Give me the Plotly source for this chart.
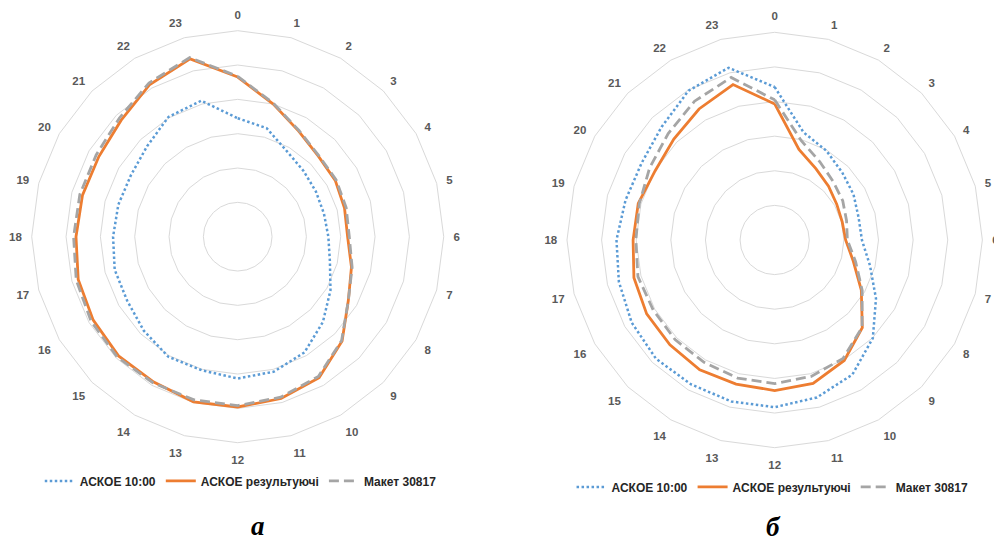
import plotly.graph_objects as go

hours = [str(h) for h in range(24)]

# Chart "а"
a_askoe_10 = [3.45, 3.27, 2.87, 2.71, 2.63, 2.60, 2.64, 2.78, 3.12, 3.51, 3.89, 4.07,
              4.13, 4.03, 4.04, 3.87, 3.72, 3.71, 3.63, 3.60, 3.59, 3.73, 4.03, 4.10]
a_askoe_res = [4.65, 4.00, 3.55, 3.32, 3.28, 3.22, 3.20, 3.43, 3.72, 4.30, 4.74, 4.88,
               4.96, 4.98, 4.89, 4.91, 4.86, 4.81, 4.71, 4.68, 4.67, 4.80, 5.12, 5.36]
a_maket = [4.67, 4.02, 3.57, 3.34, 3.31, 3.27, 3.25, 3.45, 3.72, 4.28, 4.70, 4.84,
           4.92, 4.92, 4.92, 4.96, 4.93, 4.87, 4.78, 4.76, 4.76, 4.88, 5.17, 5.40]

# Chart "б"
b_askoe_10 = [4.42, 3.22, 2.98, 2.76, 2.63, 2.51, 2.52, 2.85, 3.38, 4.01, 4.49, 4.71,
              4.83, 4.83, 4.82, 4.85, 4.77, 4.66, 4.57, 4.46, 4.44, 4.62, 4.98, 5.15]
b_askoe_res = [3.93, 2.71, 2.38, 2.20, 2.07, 2.02, 2.05, 2.35, 2.89, 3.58, 4.02, 4.29,
               4.35, 4.31, 4.33, 4.28, 4.27, 4.21, 4.09, 4.08, 3.99, 4.12, 4.37, 4.65]
b_maket = [4.05, 2.97, 2.61, 2.39, 2.27, 2.15, 2.10, 2.42, 2.92, 3.57, 3.95, 4.08,
           4.15, 4.13, 4.08, 4.07, 4.05, 4.09, 4.01, 4.05, 4.17, 4.35, 4.63, 4.86]

series_names = ["АСКОЕ 10:00", "АСКОЕ результуючі", "Макет 30817"]
colors = ["#5B9BD5", "#ED7D31", "#A5A5A5"]
dashes = ["2.5px,2.5px", "solid", "10px,5px"]
widths = [2.5, 2.8, 2.8]

panel_labels = ["а", "б"]


def closed(v):
    return list(v) + [v[0]]


fig = go.Figure()
panels = [
    ("polar", "legend", [a_askoe_10, a_askoe_res, a_maket]),
    ("polar2", "legend2", [b_askoe_10, b_askoe_res, b_maket]),
]
for subplot, legend, data in panels:
    for name, vals, c, d, w in zip(series_names, data, colors, dashes, widths):
        fig.add_trace(go.Scatterpolar(
            r=closed(vals), theta=closed(hours), mode="lines", name=name,
            line=dict(color=c, dash=d, width=w),
            subplot=subplot, legend=legend, hoverinfo="skip",
        ))

tickfont = dict(family="Liberation Sans", size=11.5, color="#595959", weight="bold")


def polar_cfg(dx, dy):
    return dict(
        domain=dict(x=dx, y=dy),
        bgcolor="white",
        gridshape="linear",
        radialaxis=dict(range=[0, 6], dtick=1, showticklabels=False, ticks="",
                        showline=False, gridcolor="#D9D9D9", gridwidth=1),
        angularaxis=dict(type="category", categoryorder="array", categoryarray=hours,
                         direction="clockwise", rotation=90, showgrid=False,
                         linecolor="#D9D9D9", linewidth=1,
                         ticks="outside", ticklen=7, tickcolor="rgba(0,0,0,0)",
                         tickfont=tickfont),
    )


legfont = dict(family="Liberation Sans", size=12, color="#262626", weight="bold")

fig.update_layout(
    width=994, height=541,
    margin=dict(l=0, r=0, t=0, b=0),
    paper_bgcolor="white",
    plot_bgcolor="white",
    polar=polar_cfg([0.0319, 0.4464], [0.1817, 0.9433]),
    polar2=polar_cfg([0.5704, 0.9883], [0.1725, 0.9403]),
    legend=dict(orientation="h", x=0.04, y=0.111, xanchor="left", yanchor="middle",
                font=legfont, bgcolor="rgba(0,0,0,0)", itemwidth=30),
    legend2=dict(orientation="h", x=0.575, y=0.10, xanchor="left", yanchor="middle",
                 font=legfont, bgcolor="rgba(0,0,0,0)", itemwidth=30),
    annotations=[
        dict(text="<b><i>" + panel_labels[0] + "</i></b>", x=258 / 994, y=1 - 526 / 541,
             xref="paper", yref="paper", showarrow=False, xanchor="center", yanchor="middle",
             font=dict(family="Liberation Serif", size=27, color="black")),
        dict(text="<b><i>" + panel_labels[1] + "</i></b>", x=773 / 994, y=1 - 527 / 541,
             xref="paper", yref="paper", showarrow=False, xanchor="center", yanchor="middle",
             font=dict(family="Liberation Serif", size=27, color="black")),
    ],
)

fig.write_html("out.html")
